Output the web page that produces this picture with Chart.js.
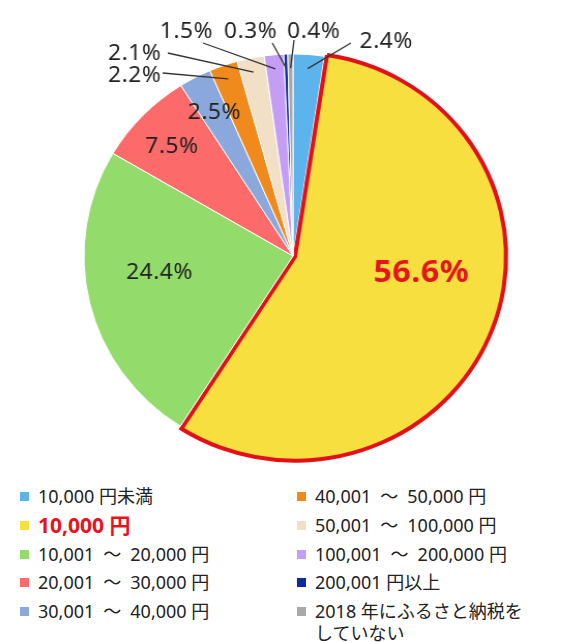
<!DOCTYPE html>
<html lang="ja">
<head>
<meta charset="utf-8">
<script src="https://cdn.jsdelivr.net/npm/chart.js@4.4.0/dist/chart.umd.min.js"></script>
<style>
  html, body { margin: 0; padding: 0; background: #fff; }
  #wrap { position: relative; width: 573px; height: 642px; overflow: hidden;
          font-family: "Noto Sans", "Noto Sans CJK JP", sans-serif; color: #222; }
  #pieBox { position: absolute; left: 0; top: 0; width: 573px; height: 480px;
            transform: scaleX(1.035); transform-origin: 293px 0; }
  .item { position: absolute; display: flex; align-items: flex-start;
          font-size: 18px; line-height: 22px; white-space: pre-line; }
  .sw { width: 9px; height: 9px; margin-top: 7px; margin-right: 9px; flex: none; }
  .hl { color: #e8141b; font-weight: bold; font-size: 21px; line-height: 22px; }
</style>
</head>
<body>
<div id="wrap">
  <div id="pieBox"><canvas id="pie"></canvas></div>
  <div id="legend"></div>
</div>
<script>
// ふるさと納税の寄付額分布
const categories = [
  '10,000 円未満',
  '10,000 円',
  '10,001\u2002〜\u200220,000 円',
  '20,001\u2002〜\u200230,000 円',
  '30,001\u2002〜\u200240,000 円',
  '40,001\u2002〜\u200250,000 円',
  '50,001\u2002〜\u2002100,000 円',
  '100,001\u2002〜\u2002200,000 円',
  '200,001 円以上',
  '2018 年にふるさと納税を\nしていない'
];
const shares = [2.4, 56.6, 24.4, 7.5, 2.5, 2.2, 2.1, 1.5, 0.3, 0.4];
const sliceColors = ['#5db4ec', '#f7df40', '#93dc6c', '#fd6a6a', '#8aa8dc',
                     '#f18a1c', '#f1e0c6', '#c49ef4', '#0c2c9c', '#a9a9a9'];
const highlight = 1; // 10,000 円

// label placement, relative to pie centre (text centre, optional leader start)
const labelLayout = [
  { t: [90, -214], l: [56, -213] },
  { t: [124, 17], big: true },
  { t: [-129, 17] },
  { t: [-117, -109] },
  { t: [-76, -143] },
  { t: [-153, -180], l: [-126, -183] },
  { t: [-153, -202], l: [-121, -203] },
  { t: [-103, -224], l: [-87, -213] },
  { t: [-41, -224], l: [-20, -213] },
  { t: [20, -224], l: [1, -216] }
];

const sliceLabels = {
  id: 'sliceLabels',
  afterDatasetsDraw(chart) {
    const ctx = chart.ctx;
    const arcs = chart.getDatasetMeta(0).data;
    ctx.save();
    ctx.textAlign = 'center';
    ctx.textBaseline = 'middle';
    arcs.forEach((arc, i) => {
      const lay = labelLayout[i];
      const cx = arc.x, cy = arc.y;
      if (lay.l) {
        const mid = (arc.startAngle + arc.endAngle) / 2;
        const rho = arc.outerRadius * 0.93;
        ctx.beginPath();
        ctx.strokeStyle = '#333';
        ctx.lineWidth = 1.3;
        ctx.moveTo(cx + lay.l[0], cy + lay.l[1]);
        ctx.lineTo(cx + Math.cos(mid) * rho, cy + Math.sin(mid) * rho);
        ctx.stroke();
      }
      if (lay.big) {
        ctx.font = 'bold 31px "Noto Sans", sans-serif';
        ctx.fillStyle = '#e8141b';
      } else {
        ctx.font = '22px "Noto Sans", sans-serif';
        ctx.fillStyle = '#222';
      }
      ctx.letterSpacing = '0.5px';
      ctx.fillText(shares[i].toFixed(1) + '%', cx + lay.t[0], cy + lay.t[1]);
    });
    ctx.restore();
  }
};

new Chart(document.getElementById('pie'), {
  type: 'pie',
  data: {
    labels: categories,
    datasets: [{
      data: shares,
      backgroundColor: sliceColors,
      borderColor: shares.map((v, i) => i === highlight ? '#e3101a' : '#ffffff'),
      borderWidth: shares.map((v, i) => i === highlight ? 4 : 1),
      borderJoinStyle: 'miter',
      offset: shares.map((v, i) => i === highlight ? 8 : 0)
    }]
  },
  options: {
    responsive: true,
    maintainAspectRatio: false,
    animation: false,
    radius: 202,
    layout: { padding: { left: 13, top: 32 } },
    plugins: {
      legend: { display: false },
      tooltip: { enabled: false }
    }
  },
  plugins: [sliceLabels]
});

// two-column legend
const legend = document.getElementById('legend');
categories.forEach((name, i) => {
  const col = i < 5 ? 0 : 1;
  const row = i % 5;
  const div = document.createElement('div');
  div.className = 'item';
  div.style.left = (col === 0 ? 20 : 297) + 'px';
  div.style.top = (485 + row * 28.8) + 'px';
  const sw = document.createElement('span');
  sw.className = 'sw';
  sw.style.background = sliceColors[i];
  const txt = document.createElement('span');
  txt.textContent = name;
  if (i === highlight) txt.className = 'hl';
  div.appendChild(sw);
  div.appendChild(txt);
  legend.appendChild(div);
});
</script>
</body>
</html>
